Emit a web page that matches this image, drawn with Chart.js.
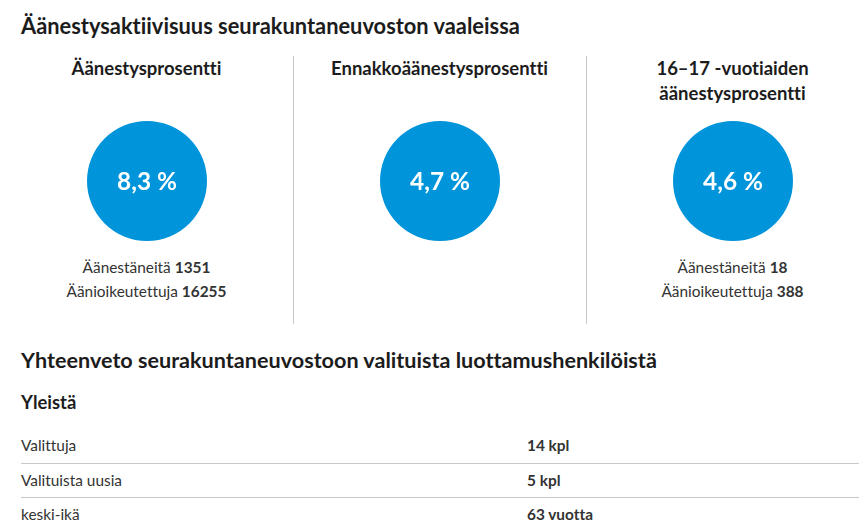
<!DOCTYPE html>
<html lang="fi">
<head>
  <meta charset="UTF-8" />
  <title>Äänestysaktiivisuus</title>
  <script src="https://cdn.jsdelivr.net/npm/chart.js"></script>
  <style>
    html, body {
      margin: 0;
      padding: 0;
      width: 866px;
      height: 528px;
      overflow: hidden;
      background: #fff;
      font-family: Lato, sans-serif;
      font-variant-ligatures: none;
      color: #222;
    }

    h2, h3, h4 { margin: 0; position: absolute; left: 21px; white-space: nowrap; color: #1c1c1c; }
    h2 { line-height: 26px; }
    h4 { font-size: 18.4px; line-height: 24px; }

    #title1 { top: 13px; font-size: 21.85px; }
    #title2 { top: 347px; font-size: 21.6px; }
    #title3 { top: 390px; }

    .col {
      position: absolute;
      top: 56px;
      width: 293px;
      height: 268px;
      text-align: center;
    }
    .col + .col::before {
      content: '';
      position: absolute;
      left: 0;
      top: 0;
      width: 1px;
      height: 268px;
      background: #c8c8c8;
    }
    .col h3 {
      left: 0;
      right: 0;
      font-size: 18.5px;
      line-height: 25px;
      top: 0;
    }
    .circle { position: absolute; left: 87px; top: 65px; width: 120px; height: 120px; }
    .circle canvas { width: 120px !important; height: 120px !important; }
    .pct {
      position: absolute;
      left: 87px;
      top: 65px;
      width: 120px;
      line-height: 120px;
      font-size: 24.4px;
      font-weight: bold;
      color: #fff;
    }
    .stats {
      position: absolute;
      left: 0;
      right: 0;
      top: 199px;
      font-size: 15.4px;
      line-height: 24px;
      color: #333;
    }

    .row {
      position: absolute;
      left: 21px;
      width: 838px;
      height: 34px;
      line-height: 33px;
      font-size: 15.4px;
      color: #333;
      box-sizing: border-box;
    }
    .row + .row { border-top: 1px solid #c8c8c8; line-height: 32px; }
    .row b { position: absolute; left: 506px; }
  </style>
</head>
<body>

  <h2 id="title1">Äänestysaktiivisuus seurakuntaneuvoston vaaleissa</h2>
  <div id="cols"></div>
  <h2 id="title2">Yhteenveto seurakuntaneuvostoon valituista luottamushenkilöistä</h2>
  <h4 id="title3">Yleistä</h4>
  <div id="rows"></div>

  <script>
    const headings = [['Äänestysprosentti'], ['Ennakkoäänestysprosentti'], ['16–17 -vuotiaiden', 'äänestysprosentti']];
    const percents = [8.3, 4.7, 4.6];
    const voted = [1351, null, 18];
    const eligible = [16255, null, 388];

    const rowLabels = ['Valittuja', 'Valituista uusia', 'keski-ikä'];
    const rowValues = ['14 kpl', '5 kpl', '63 vuotta'];

    const colsEl = document.getElementById('cols');
    percents.forEach((pct, i) => {
      const col = document.createElement('div');
      col.className = 'col';
      col.style.left = (i * 293) + 'px';
      let html = '<h3>' + headings[i].join('<br>') + '</h3>';
      html += '<div class="circle"><canvas id="circle' + i + '"></canvas></div>';
      html += '<div class="pct">' + String(pct).replace('.', ',') + ' %</div>';
      if (voted[i] !== null) {
        html += '<div class="stats">Äänestäneitä <b>' + voted[i] + '</b><br>Äänioikeutettuja <b>' + eligible[i] + '</b></div>';
      }
      col.innerHTML = html;
      colsEl.appendChild(col);

      new Chart(document.getElementById('circle' + i), {
        type: 'pie',
        data: {
          labels: [headings[i].join(' ')],
          datasets: [{ data: [pct], backgroundColor: '#0095da', borderWidth: 0 }]
        },
        options: {
          responsive: false,
          animation: false,
          plugins: { legend: { display: false }, tooltip: { enabled: false } }
        }
      });
    });

    const rowsEl = document.getElementById('rows');
    rowLabels.forEach((label, i) => {
      const row = document.createElement('div');
      row.className = 'row';
      row.style.top = (429 + i * 34) + 'px';
      row.innerHTML = label + '<b>' + rowValues[i] + '</b>';
      rowsEl.appendChild(row);
    });
  </script>

</body>
</html>
